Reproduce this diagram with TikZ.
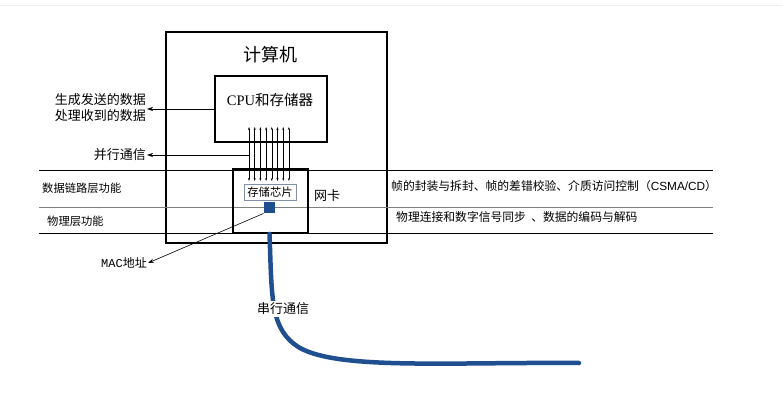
\documentclass[tikz,border=0pt]{standalone}
\usepackage{fontspec}
\setmainfont{Liberation Serif}
\newfontfamily\cjk{Noto Sans CJK SC}
\usetikzlibrary{arrows.meta,positioning}

\definecolor{cableblue}{HTML}{1F4F8F}
\definecolor{chipframe}{HTML}{8090A8}

\tikzset{
  thickbox/.style={draw, line width=1.8pt, inner sep=0pt},
  chipbox/.style={draw=chipframe, fill=white, line width=0.8pt, inner sep=0pt},
  cnlabel/.style={font=\cjk\fontsize{11.3}{14}\selectfont, inner sep=1pt},
  biglabel/.style={font=\cjk\fontsize{13}{16}\selectfont, inner sep=1pt},
  layerline/.style={line width=0.8pt},
  busarrow/.style={{Stealth[length=3pt,width=2pt]}-{Stealth[length=3pt,width=2pt]}, line width=0.5pt},
  notearrow/.style={-{Stealth[length=6pt,width=4pt]}, line width=0.6pt}
}

\begin{document}
\begin{tikzpicture}[x=1pt,y=-1pt]
  \useasboundingbox (0,0) rectangle (783,411);
  \draw[gray!12, line width=1pt] (0,6) -- (783,6);

  \node[thickbox, minimum width=221pt, minimum height=211pt] (pc) at (276.5,137.5) {};
  \node[font=\cjk\fontsize{18}{20}\selectfont] (pctitle) at (270,55) {计算机};

  \node[thickbox, fill=white, minimum width=112pt, minimum height=66pt] (cpu) at (271,109) {};
  \node[font=\fontsize{14.5}{16}\selectfont] (cputext) at (270,100) {CPU\cjk 和存储器};

  \draw[layerline] (39,170) -- (713,170);
  \draw[layerline, gray] (39,207) -- (713,207);
  \draw[layerline] (39,233) -- (713,233);

  \node[thickbox, minimum width=75pt, minimum height=64pt] (nic) at (270.5,201) {};
  \node[chipbox, minimum width=52pt, minimum height=16pt, font=\cjk\fontsize{11.3}{12}\selectfont] (chip) at (270,192) {存储芯片};
  \node[biglabel, right=4pt of nic.east, anchor=west, yshift=5pt] (nictext) {网卡};
  \node[fill=cableblue, minimum size=11.5pt, inner sep=0pt] (mac) at (269.5,207.5) {};

  \foreach \i in {0,...,7}
    \draw[busarrow] (249+\i*5.7,127) -- (249+\i*5.7,181);

  \node[biglabel, anchor=east, align=right] (gen) at (147,108) {生成发送的数据\\处理收到的数据};
  \node[biglabel, anchor=east] (par) at (147,155) {并行通信};
  \node[cnlabel, anchor=west] (dll) at (41,188) {数据链路层功能};
  \node[cnlabel, anchor=west] (phy) at (46,221) {物理层功能};
  \node[cnlabel, anchor=east, font=\cjk\fontsize{12}{14}\selectfont] (macaddr) at (148,263) {\fontspec{Liberation Mono}MAC\cjk 地址};
  \node[cnlabel, anchor=west, font=\cjk\fontsize{11.8}{14}\selectfont] (dlltext) at (390,186) {帧的封装与拆封、帧的差错校验、介质访问控制（\fontspec{Liberation Sans}CSMA/CD\cjk ）};
  \node[cnlabel, anchor=west, font=\cjk\fontsize{11.8}{14}\selectfont] (phytext) at (395,217) {物理连接和数字信号同步\ \ 、数据的编码与解码};

  \coordinate (busleft) at (249,155);
  \draw[notearrow] (cpu.west) -- (gen.east |- cpu.west);
  \draw[notearrow] (busleft) -- (par.east);
  \draw[notearrow] (mac.south west) -- (macaddr.east);

  \coordinate (cableend) at (579,363);
  \draw[cableblue, line width=4.5pt, line cap=round]
    (nic.south -| mac) .. controls (272,300) and (270,330) .. (300,348)
    .. controls (340,370) and (450,362) .. (cableend);
  \node[biglabel, fill=white, inner sep=2pt] (serial) at (283,309) {串行通信};
\end{tikzpicture}
\end{document}
